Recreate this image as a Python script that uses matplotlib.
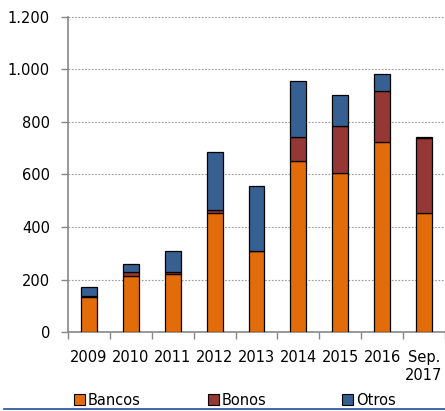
import matplotlib
matplotlib.use("Agg")
import matplotlib.pyplot as plt
from matplotlib.lines import Line2D
from matplotlib.patches import Patch
from matplotlib.ticker import FuncFormatter, MultipleLocator
import numpy as np

# values (millions)
years  = ["2009", "2010", "2011", "2012", "2013", "2014", "2015", "2016", "Sep.\n2017"]
bancos = [134, 215, 220, 455, 308, 652, 607, 725, 455]
bonos  = [2, 12, 10, 10, 0, 90, 178, 192, 285]
otros  = [34, 32, 80, 222, 248, 212, 119, 66, 2]

series = ["Bancos", "Bonos", "Otros"]
colors = ["#E36C0A", "#953735", "#376092"]

plt.rcParams["font.family"] = "DejaVu Sans"
plt.rcParams["font.size"] = 10.5

fig = plt.figure(figsize=(4.45, 4.11), dpi=100)
ax = fig.add_axes([0.153, 0.192, 0.847, 0.767])

x = np.arange(len(years))
w = 0.38
bottom = np.zeros(len(years))
for name, vals, c in zip(series, [bancos, bonos, otros], colors):
    ax.bar(x, vals, w, bottom=bottom, color=c, edgecolor="black", linewidth=0.9,
           label=name, zorder=3)
    bottom = bottom + np.array(vals)

ax.set_xlim(-0.5, len(years) - 0.5)
ax.set_ylim(0, 1200)
ax.yaxis.set_major_locator(MultipleLocator(200))
ax.yaxis.set_major_formatter(FuncFormatter(lambda v, p: f"{int(v):,}".replace(",", ".")))
ax.grid(axis="y", color="#999999", linestyle=(0, (1.5, 1.5)), linewidth=0.8, zorder=0)

ax.set_xticks(x)
ax.set_xticklabels(years)
ax.set_xticks(np.arange(-0.5, len(years), 1), minor=True)
ax.tick_params(axis="x", which="major", length=0, pad=13)
ax.tick_params(axis="x", which="minor", length=5, color="#888888", width=1)
ax.tick_params(axis="y", length=5, color="#888888", width=1, pad=8)

for s in ["top", "right"]:
    ax.spines[s].set_visible(False)
for s in ["left", "bottom"]:
    ax.spines[s].set_color("#888888")
    ax.spines[s].set_linewidth(1.2)

# one legend entry per slot, evenly spread like the original
for i, (name, c) in enumerate(zip(series, colors)):
    fig.legend(handles=[Patch(facecolor=c, edgecolor="black", linewidth=0.8, label=name)],
               loc="center left", bbox_to_anchor=((74 + 134 * i) / 445, 0.026),
               frameon=False, handlelength=0.75, handleheight=0.75, handletextpad=0.2,
               borderaxespad=0, borderpad=0, fontsize=10.5)

fig.add_artist(Line2D([0.01, 1.0], [0.005, 0.005], color="#1F4E99", linewidth=1.2,
                      transform=fig.transFigure))

fig.savefig("out.png", dpi=100)
